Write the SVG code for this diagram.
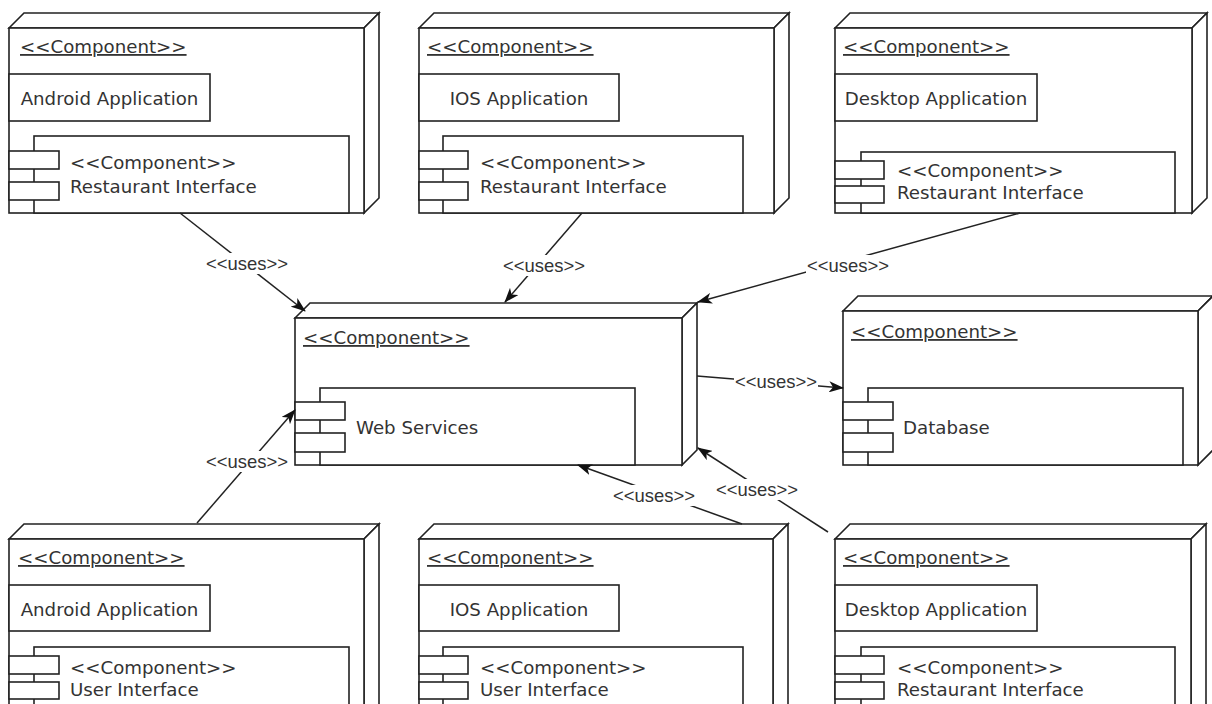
<svg xmlns="http://www.w3.org/2000/svg" width="1212" height="704" viewBox="0 0 1212 704">
<style>
.box{fill:#fff;stroke:#222;stroke-width:1.6;stroke-linejoin:miter}
.t{font-family:"DejaVu Sans",Verdana,sans-serif;font-size:18.2px;fill:#333}
.u{text-decoration:underline}
.conn{stroke:#222;stroke-width:1.5;fill:none;marker-end:url(#arr)}
.lbg{fill:#fff}
.lbl{font-family:"Liberation Sans",Arial,sans-serif;font-size:19px;fill:#333;text-anchor:middle}
</style>
<defs>
<marker id="arr" viewBox="0 0 15 11" refX="14" refY="5.5" markerWidth="15" markerHeight="11" markerUnits="userSpaceOnUse" orient="auto">
<path d="M0,0 L15,5.5 L0,11 L4,5.5 Z" fill="#111"/>
</marker>
</defs>
<rect width="1212" height="704" fill="#fff"/>

<g id="n1">
<path class="box" d="M9,28 L24,13 L379,13 L364,28 Z"/>
<path class="box" d="M364,28 L379,13 L379,198 L364,213 Z"/>
<rect class="box" x="9" y="28" width="355" height="185"/>
<text class="t u" x="20" y="53">&lt;&lt;Component&gt;&gt;</text>
<rect class="box" x="9" y="74" width="201" height="47"/>
<text class="t" x="109.5" y="105" text-anchor="middle">Android Application</text>
<rect class="box" x="34" y="136" width="315" height="77"/>
<rect class="box" x="9" y="151" width="50" height="18"/>
<rect class="box" x="9" y="182" width="50" height="18"/>
<text class="t" x="70" y="169">&lt;&lt;Component&gt;&gt;</text>
<text class="t" x="70" y="193">Restaurant Interface</text>
</g>

<g id="n2">
<path class="box" d="M419,28 L434,13 L789,13 L774,28 Z"/>
<path class="box" d="M774,28 L789,13 L789,198 L774,213 Z"/>
<rect class="box" x="419" y="28" width="355" height="185"/>
<text class="t u" x="427" y="53">&lt;&lt;Component&gt;&gt;</text>
<rect class="box" x="419" y="74" width="200" height="47"/>
<text class="t" x="519" y="105" text-anchor="middle">IOS Application</text>
<rect class="box" x="443" y="136" width="300" height="77"/>
<rect class="box" x="419" y="151" width="49" height="18"/>
<rect class="box" x="419" y="182" width="49" height="18"/>
<text class="t" x="480" y="169">&lt;&lt;Component&gt;&gt;</text>
<text class="t" x="480" y="193">Restaurant Interface</text>
</g>

<g id="n3">
<path class="box" d="M835,28 L850,13 L1207,13 L1192,28 Z"/>
<path class="box" d="M1192,28 L1207,13 L1207,198 L1192,213 Z"/>
<rect class="box" x="835" y="28" width="357" height="185"/>
<text class="t u" x="843" y="53">&lt;&lt;Component&gt;&gt;</text>
<rect class="box" x="835" y="74" width="202" height="47"/>
<text class="t" x="936" y="105" text-anchor="middle">Desktop Application</text>
<rect class="box" x="861" y="152" width="314" height="61"/>
<rect class="box" x="835" y="161" width="49" height="18"/>
<rect class="box" x="835" y="186" width="49" height="17"/>
<text class="t" x="897" y="177">&lt;&lt;Component&gt;&gt;</text>
<text class="t" x="897" y="199">Restaurant Interface</text>
</g>

<g id="n4">
<path class="box" d="M295,318 L310,303 L697,303 L682,318 Z"/>
<path class="box" d="M682,318 L697,303 L697,450 L682,465 Z"/>
<rect class="box" x="295" y="318" width="387" height="147"/>
<text class="t u" x="303" y="344">&lt;&lt;Component&gt;&gt;</text>
<rect class="box" x="320" y="388" width="315" height="77"/>
<rect class="box" x="295" y="402" width="50" height="18"/>
<rect class="box" x="295" y="433" width="50" height="19"/>
<text class="t" x="356" y="434">Web Services</text>
</g>

<g id="n5">
<path class="box" d="M843,311 L858,296 L1213,296 L1198,311 Z"/>
<path class="box" d="M1198,311 L1213,296 L1213,450 L1198,465 Z"/>
<rect class="box" x="843" y="311" width="355" height="154"/>
<text class="t u" x="851" y="338">&lt;&lt;Component&gt;&gt;</text>
<rect class="box" x="868" y="388" width="315" height="77"/>
<rect class="box" x="843" y="402" width="50" height="18"/>
<rect class="box" x="843" y="433" width="50" height="19"/>
<text class="t" x="903" y="434">Database</text>
</g>

<g id="n6">
<path class="box" d="M9,539 L24,524 L379,524 L364,539 Z"/>
<path class="box" d="M364,539 L379,524 L379,709 L364,724 Z"/>
<rect class="box" x="9" y="539" width="355" height="185"/>
<text class="t u" x="18" y="564">&lt;&lt;Component&gt;&gt;</text>
<rect class="box" x="9" y="585" width="201" height="46"/>
<text class="t" x="109.5" y="616" text-anchor="middle">Android Application</text>
<rect class="box" x="34" y="647" width="315" height="77"/>
<rect class="box" x="9" y="656" width="50" height="18"/>
<rect class="box" x="9" y="682" width="50" height="17"/>
<text class="t" x="70" y="674">&lt;&lt;Component&gt;&gt;</text>
<text class="t" x="70" y="696">User Interface</text>
</g>

<g id="n7">
<path class="box" d="M419,539 L434,524 L788,524 L773,539 Z"/>
<path class="box" d="M773,539 L788,524 L788,709 L773,724 Z"/>
<rect class="box" x="419" y="539" width="354" height="185"/>
<text class="t u" x="427" y="564">&lt;&lt;Component&gt;&gt;</text>
<rect class="box" x="419" y="585" width="200" height="46"/>
<text class="t" x="519" y="616" text-anchor="middle">IOS Application</text>
<rect class="box" x="443" y="647" width="300" height="77"/>
<rect class="box" x="419" y="656" width="49" height="18"/>
<rect class="box" x="419" y="682" width="49" height="17"/>
<text class="t" x="480" y="674">&lt;&lt;Component&gt;&gt;</text>
<text class="t" x="480" y="696">User Interface</text>
</g>

<g id="n8">
<path class="box" d="M835,539 L850,524 L1206,524 L1191,539 Z"/>
<path class="box" d="M1191,539 L1206,524 L1206,709 L1191,724 Z"/>
<rect class="box" x="835" y="539" width="356" height="185"/>
<text class="t u" x="843" y="564">&lt;&lt;Component&gt;&gt;</text>
<rect class="box" x="835" y="585" width="202" height="46"/>
<text class="t" x="936" y="616" text-anchor="middle">Desktop Application</text>
<rect class="box" x="861" y="647" width="314" height="77"/>
<rect class="box" x="835" y="656" width="49" height="18"/>
<rect class="box" x="835" y="682" width="49" height="17"/>
<text class="t" x="897" y="674">&lt;&lt;Component&gt;&gt;</text>
<text class="t" x="897" y="696">Restaurant Interface</text>
</g>

<g id="connectors">
<line class="conn" x1="180" y1="213" x2="305" y2="311"/>
<line class="conn" x1="582" y1="213" x2="505" y2="302"/>
<line class="conn" x1="1020" y1="213" x2="698" y2="302"/>
<line class="conn" x1="697" y1="376" x2="843" y2="388"/>
<line class="conn" x1="197" y1="523" x2="295" y2="410"/>
<line class="conn" x1="742" y1="524" x2="578" y2="465"/>
<line class="conn" x1="828" y1="532" x2="698" y2="448"/>
<rect class="lbg" x="205" y="253" width="84" height="21"/>
<text class="lbl" x="247" y="270" textLength="82" lengthAdjust="spacingAndGlyphs">&lt;&lt;uses&gt;&gt;</text>
<rect class="lbg" x="502" y="255" width="84" height="21"/>
<text class="lbl" x="544" y="272" textLength="82" lengthAdjust="spacingAndGlyphs">&lt;&lt;uses&gt;&gt;</text>
<rect class="lbg" x="806" y="255" width="84" height="21"/>
<text class="lbl" x="848" y="272" textLength="82" lengthAdjust="spacingAndGlyphs">&lt;&lt;uses&gt;&gt;</text>
<rect class="lbg" x="734" y="372" width="84" height="19"/>
<text class="lbl" x="776" y="388" textLength="82" lengthAdjust="spacingAndGlyphs">&lt;&lt;uses&gt;&gt;</text>
<rect class="lbg" x="205" y="451" width="84" height="21"/>
<text class="lbl" x="247" y="468" textLength="82" lengthAdjust="spacingAndGlyphs">&lt;&lt;uses&gt;&gt;</text>
<rect class="lbg" x="612" y="485" width="84" height="21"/>
<text class="lbl" x="654" y="502" textLength="82" lengthAdjust="spacingAndGlyphs">&lt;&lt;uses&gt;&gt;</text>
<rect class="lbg" x="715" y="479" width="84" height="21"/>
<text class="lbl" x="757" y="496" textLength="82" lengthAdjust="spacingAndGlyphs">&lt;&lt;uses&gt;&gt;</text>
</g>
</svg>
